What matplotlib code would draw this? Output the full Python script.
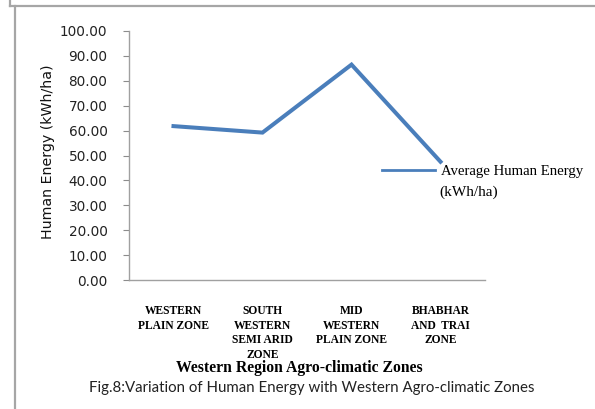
import matplotlib
matplotlib.use("Agg")
import matplotlib.pyplot as plt
from matplotlib.lines import Line2D

zones = ["WESTERN\nPLAIN ZONE", "SOUTH\nWESTERN\nSEMI ARID\nZONE",
         "MID\nWESTERN\nPLAIN ZONE", "BHABHAR\nAND  TRAI\nZONE"]
human_energy = [61.8, 59.2, 86.5, 47.5]
y_ticks = [0, 10, 20, 30, 40, 50, 60, 70, 80, 90, 100]

W, H = 595, 409
fig = plt.figure(figsize=(W / 100, H / 100), dpi=100)
fig.patch.set_facecolor("white")


def fx(px):
    return px / W


def fy(py):
    return 1 - py / H


# outer chart frame (gray lines)
frame = dict(color="#a6a6a6", lw=1.6, transform=fig.transFigure)
fig.add_artist(Line2D([fx(10), fx(10)], [fy(0), fy(5.5)], **frame))
fig.add_artist(Line2D([fx(10), fx(600)], [fy(5.5), fy(5.5)], **frame))
fig.add_artist(Line2D([fx(14.5), fx(14.5)], [fy(5.5), fy(412)], **frame))

ax = fig.add_axes([fx(129), fy(280), fx(485) - fx(129), fy(31) - fy(280)])
x = list(range(len(zones)))
line, = ax.plot(x, human_energy, color="#4a7ebb", lw=2.9, solid_joinstyle="miter")

ax.set_xlim(-0.5, len(zones) - 0.5)
ax.set_ylim(0, 100)
ax.set_yticks(y_ticks)
ax.set_yticklabels(["%.2f" % v for v in y_ticks], fontsize=9.8,
                   family="DejaVu Sans", color="#222222")
ax.set_xticks(x)
ax.set_xticklabels(zones, fontsize=8.3, family="Liberation Serif",
                   fontweight="bold", linespacing=1.3, va="top")
ax.tick_params(axis="x", length=0, pad=18)
ax.tick_params(axis="y", length=4.5, width=0.8, color="#8c8c8c", pad=11)

for s in ["top", "right"]:
    ax.spines[s].set_visible(False)
for s in ["left", "bottom"]:
    ax.spines[s].set_color("#a0a0a0")
    ax.spines[s].set_linewidth(1.0)

fig.text(fx(48), fy(152), "Human Energy (kWh/ha)", rotation=90, ha="center",
         va="center", fontsize=10.2, family="DejaVu Sans", color="#111111")

fig.text(fx(299), fy(368), "Western Region Agro-climatic Zones", ha="center",
         va="center", fontsize=11.3, family="Liberation Serif", fontweight="bold")
fig.text(fx(312), fy(388),
         "Fig.8:Variation of Human Energy with Western Agro-climatic Zones",
         ha="center", va="center", fontsize=10.8, family="Lato", color="#222222")

# legend
leg = fig.legend([Line2D([], [], color="#4a7ebb", lw=2.0)],
                 ["Average Human Energy"], loc="center left",
                 bbox_to_anchor=(fx(382), fy(171)), frameon=False,
                 borderpad=0, borderaxespad=0,
                 handlelength=3.6, handletextpad=0.4,
                 prop={"family": "Liberation Serif", "size": 10.6})
fig.text(fx(439), fy(192), "(kWh/ha)", ha="left", va="center", fontsize=11,
         family="Liberation Serif")

fig.savefig("out.png", dpi=100, facecolor="white")
